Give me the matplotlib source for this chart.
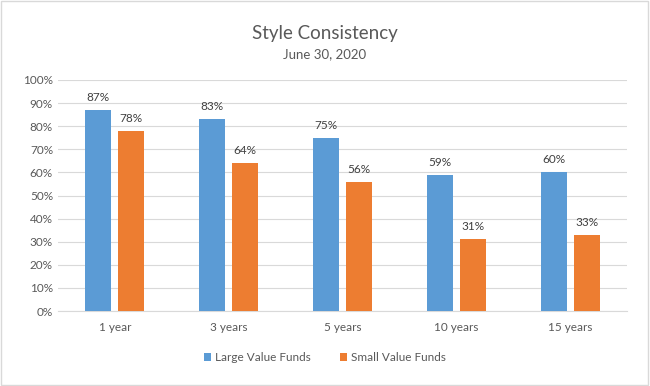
import numpy as np
import matplotlib.pyplot as plt
from matplotlib.ticker import PercentFormatter

categories = ["1 year", "3 years", "5 years", "10 years", "15 years"]
large_value = [87, 83, 75, 59, 60]
small_value = [78, 64, 56, 31, 33]

plt.rcParams['font.family'] = ['Lato', 'DejaVu Sans']
text_color = "#595959"

fig = plt.figure(figsize=(6.5, 3.86), dpi=100)
ax = fig.add_axes([0.089, 0.194, 0.876, 0.599])

x = np.arange(len(categories))
w = 0.23
gap = 0.03
b1 = ax.bar(x - w / 2 - gap, large_value, w, color="#5B9BD5", label="Large Value Funds", zorder=3)
b2 = ax.bar(x + w / 2 + gap, small_value, w, color="#ED7D31", label="Small Value Funds", zorder=3)

for bars in (b1, b2):
    ax.bar_label(bars, labels=[f"{v:.0f}%" for v in bars.datavalues],
                 padding=5, fontsize=8.5, color="#404040")

ax.set_ylim(0, 100)
ax.set_xlim(-0.5, len(categories) - 0.5)
ax.set_yticks(range(0, 101, 10))
ax.yaxis.set_major_formatter(PercentFormatter(decimals=0))
ax.set_xticks(x)
ax.set_xticklabels(categories)
ax.tick_params(axis="both", length=0, labelsize=8.5, colors=text_color)
ax.tick_params(axis="x", pad=8)
ax.grid(True, axis="y", color="#D9D9D9", linewidth=0.8, zorder=0)
for s in ["top", "right", "left"]:
    ax.spines[s].set_visible(False)
ax.spines["bottom"].set_color("#D9D9D9")

fig.text(0.5, 0.9, "Style Consistency", ha="center", fontsize=13.5, color=text_color)
fig.text(0.5, 0.85, "June 30, 2020", ha="center", fontsize=9.5, color=text_color)

fig.legend(handles=[b1, b2], loc="center", bbox_to_anchor=(0.5, 0.073), ncol=2,
           frameon=False, fontsize=8.5, labelcolor=text_color,
           handlelength=0.6, handleheight=0.6, handletextpad=0.3, columnspacing=2.5)

fig.patches.append(plt.Rectangle((0.002, 0.003), 0.995, 0.994, transform=fig.transFigure,
                                 fill=False, edgecolor="#D9D9D9", linewidth=1))

fig.savefig("out.png", dpi=100)
